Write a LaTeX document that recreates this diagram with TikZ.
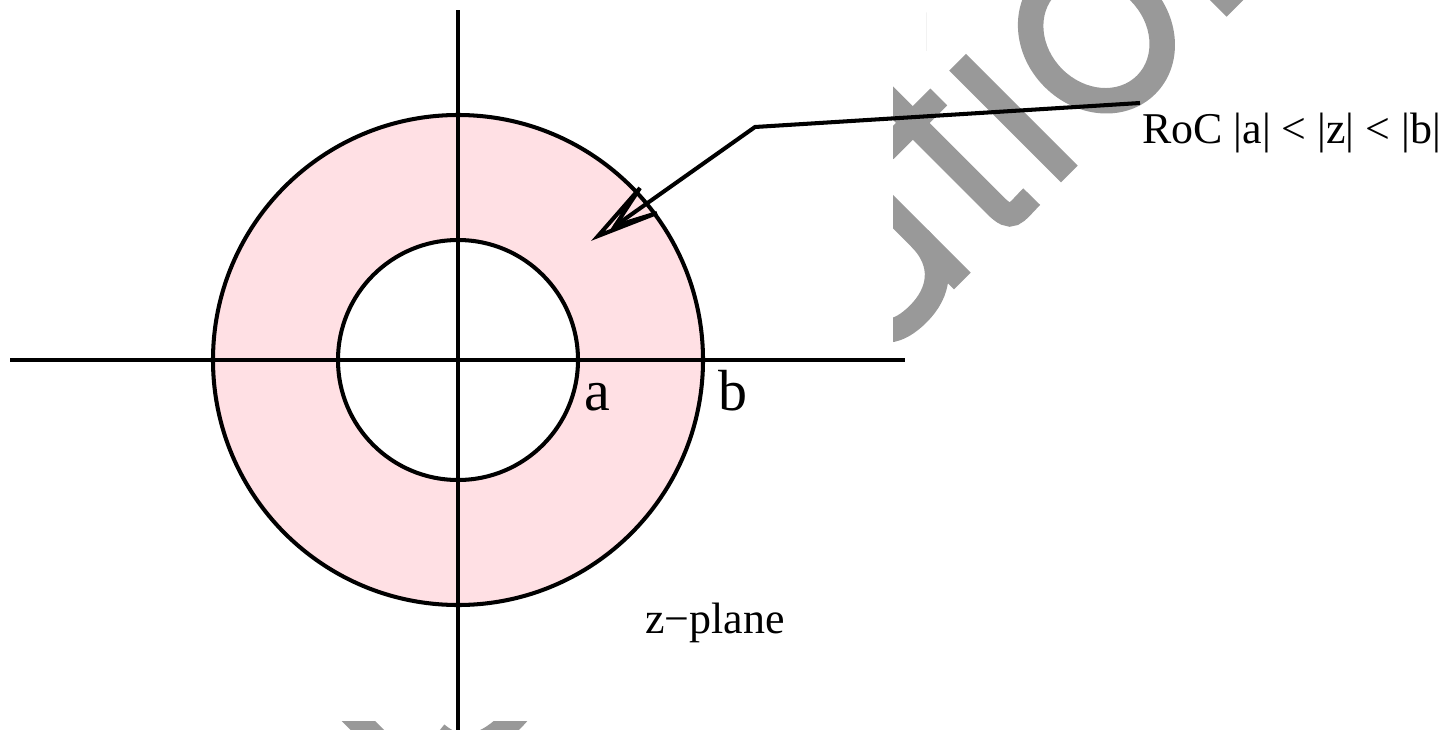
\documentclass[tikz,border=0pt]{standalone}
\usepackage{fontspec}
\setmainfont{Liberation Serif}
\usepackage{xcolor}
\usepackage{tikz}
\usetikzlibrary{calc}
\definecolor{rocpink}{RGB}{255,224,228}
\definecolor{wmgrey}{RGB}{153,153,153}

\begin{document}
\begin{tikzpicture}[x=0.02cm, y=-0.02cm,
  axis/.style={line width=2.2pt},
  rim/.style={line width=2.3pt},
  wm/.style={draw=wmgrey, line width=13.5pt},
  lbl/.style={inner sep=0pt, anchor=base, font=\fontsize{33}{33}\selectfont},
  txt/.style={inner sep=0pt, anchor=base west, font=\fontsize{25}{25}\selectfont}]
\useasboundingbox (0,0) rectangle (1450,730);

% watermark strokes, cut off by the white box of the plot
\begin{scope}
\clip (893,0) -- (1450,0) -- (1450,730) -- (0,730) -- (0,721) -- (893,721) -- cycle;
\begin{scope}[shift={(1045.6,197.7)}, x={(0.004271cm,0.004271cm)}, y={(-0.004271cm,0.004271cm)}]
% i s
\draw[wm] (-2834,0) -- (-2834,523);
\draw[wm] (-3090,0) -- (-3090,420);
\draw[wm] (-2305,365) .. controls (-2310,470) and (-2400,498) .. (-2480,498)
  .. controls (-2580,498) and (-2660,450) .. (-2660,375)
  .. controls (-2660,290) and (-2580,275) .. (-2480,250)
  .. controls (-2360,222) and (-2290,200) .. (-2290,130)
  .. controls (-2290,50) and (-2380,26) .. (-2480,26)
  .. controls (-2590,26) and (-2670,60) .. (-2680,170);
% u
\draw[wm] (-390,0) -- (-390,523);
\draw[wm] (-722,523) -- (-722,170) .. controls (-722,60) and (-660,26) .. (-570,26)
  .. controls (-470,26) and (-390,80) .. (-390,200);
% t
\draw[wm] (-136,669) -- (-136,100) .. controls (-136,20) and (-110,35) .. (-30,35);
\draw[wm] (-266,486) -- (-14,486);
% i
\draw[wm] (111,0) -- (111,523);
\fill[wmgrey] (66,622) rectangle (156,712);
% o
\fill[wmgrey, even odd rule] (500,262) ellipse[x radius=243, y radius=276]
  (500,262) ellipse[x radius=160, y radius=190];
% n
\draw[wm] (887,0) -- (887,523);
\draw[wm] (887,380) .. controls (930,520) and (1000,538) .. (1060,538)
  .. controls (1180,538) and (1224,470) .. (1224,380) -- (1224,0);
\end{scope}
\end{scope}

% region of convergence
\coordinate (O) at (458,360);
\fill[rocpink, even odd rule] (O) circle[radius=245] (O) circle[radius=120];

% axes
\coordinate (xl) at (10,360);
\coordinate (xr) at (905,360);
\coordinate (yt) at (458,10);
\coordinate (yb) at (458,730);
\draw[axis] (xl) -- (xr);
\draw[axis] (yt) -- (yb);

% circles |z| = a and |z| = b
\draw[rim] (O) circle[radius=120];
\draw[rim] (O) circle[radius=245];
\node[lbl] (a) at (597,410) {a};
\node[lbl] (b) at (733,410) {b};

% labels
\node[txt] (roc) at (1142,143) {RoC |a| < |z| < |b|};
\node[txt] (zp) at (645,633) {z−plane};

% pointer with open head
\coordinate (lead) at (1140,103);
\coordinate (kink) at (755,127);
\coordinate (tip) at (598,236);
\coordinate (barbl) at (640,188);
\coordinate (barbr) at (657,213);
\coordinate (notch) at (615,226);
\draw[rim, line join=miter] (lead) -- (kink) -- (notch);
\draw[rim, line join=miter] (tip) -- (barbl) -- (notch) -- (barbr) -- cycle;
\end{tikzpicture}
\end{document}
